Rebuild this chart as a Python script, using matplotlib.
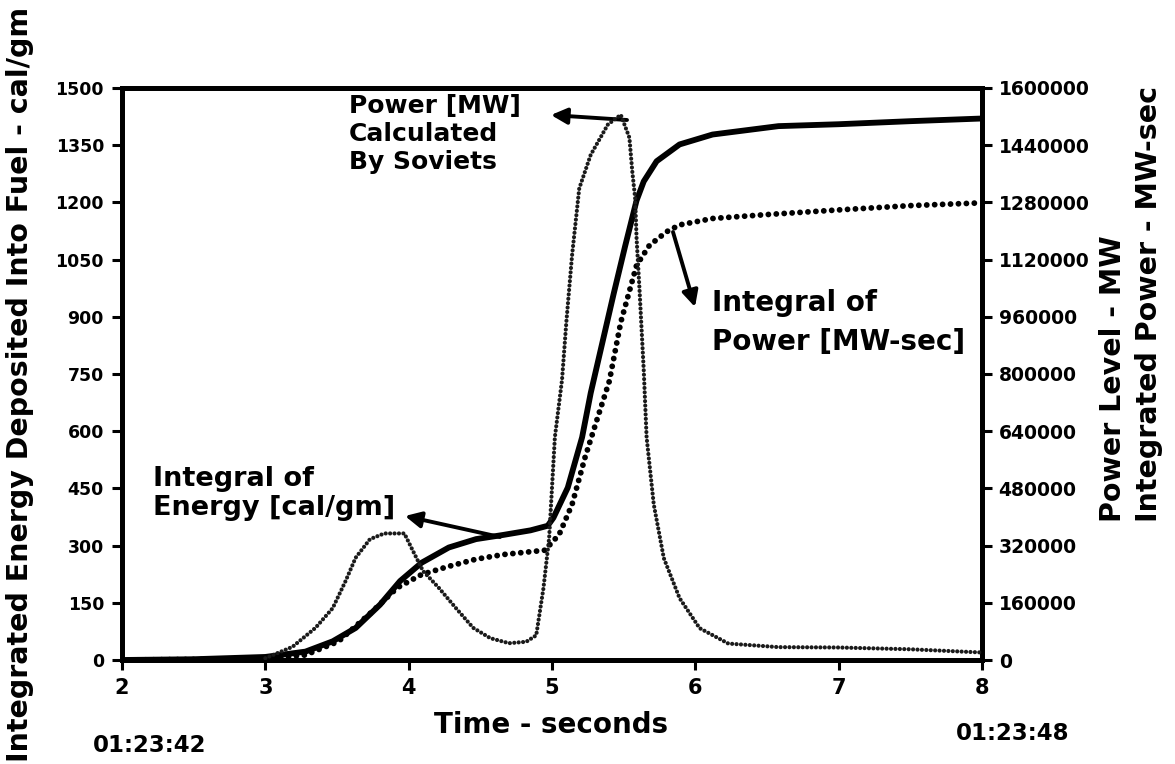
import matplotlib
matplotlib.use("Agg")
import matplotlib.pyplot as plt

plt.rcParams['font.family'] = ['DejaVu Sans']
plt.rcParams['font.weight'] = 'bold'

# ---------------- data ----------------
x_ticks = [2, 3, 4, 5, 6, 7, 8]
left_ticks = [0, 150, 300, 450, 600, 750, 900, 1050, 1200, 1350, 1500]
right_ticks = [0, 160000, 320000, 480000, 640000, 800000, 960000,
               1120000, 1280000, 1440000, 1600000]

# Integral of energy deposited into fuel (cal/gm), left axis
energy_t = [2.0, 2.5, 3.0, 3.28, 3.47, 3.63, 3.80, 3.94, 4.09, 4.28, 4.47,
            4.66, 4.85, 4.97, 5.01, 5.11, 5.21, 5.27, 5.35, 5.43, 5.51, 5.59,
            5.64, 5.73, 5.89, 6.12, 6.58, 7.00, 7.50, 8.00]
energy_cal = [0, 2, 8, 22, 49, 84, 145, 207, 255, 295, 317,
              328, 340, 352, 373, 452, 584, 700, 830, 960, 1085, 1205,
              1255, 1308, 1352, 1378, 1400, 1405, 1413, 1420]

# Integral of power (MW-sec), right axis
ipower_t = [2.0, 3.0, 3.28, 3.51, 3.75, 3.92, 4.09, 4.28, 4.47, 4.66, 4.95,
            5.05, 5.14, 5.23, 5.32, 5.40, 5.48, 5.59, 5.68, 5.80, 5.89, 6.12,
            6.50, 7.00, 7.50, 7.95]
ipower_mws = [0, 3000, 14000, 52000, 137000, 202000, 239000, 262000, 282000,
              295000, 307000, 351000, 435000, 566000, 680000, 780000, 945000,
              1104000, 1160000, 1198000, 1217000, 1235000, 1246000, 1259000,
              1271000, 1278000]

# Power (MW) calculated by Soviets, right axis
power_t = [3.00, 3.19, 3.35, 3.47, 3.56, 3.63, 3.73, 3.83, 3.97, 4.03, 4.10,
           4.21, 4.33, 4.45, 4.57, 4.70, 4.82, 4.89, 4.94, 4.98, 5.00, 5.02,
           5.07, 5.10, 5.14, 5.19, 5.27, 5.39, 5.48, 5.54, 5.56, 5.58, 5.59,
           5.61, 5.64, 5.66, 5.71, 5.78, 5.89, 6.03, 6.23, 6.58, 7.00, 7.50,
           8.00]
power_mw = [5000, 37000, 90000, 145000, 221000, 286000, 338000, 354000,
            354000, 305000, 249000, 202000, 145000, 90000, 61000, 47000,
            51000, 69000, 200000, 341000, 482000, 623000, 784000, 945000,
            1132000, 1319000, 1413000, 1498000, 1525000, 1461000, 1367000,
            1292000, 1180000, 1040000, 811000, 623000, 435000, 285000,
            173000, 89000, 46000, 36000, 35000, 30000, 21000]

# ---------------- figure ----------------
W, H = 1175, 764
fig = plt.figure(figsize=(W / 100, H / 100), dpi=100)
ax = fig.add_axes([122 / W, 1 - 660 / H, (982 - 122) / W, (660 - 88) / H])
ax2 = ax.twinx()

ax.set_xlim(2, 8)
ax.set_ylim(0, 1500)
ax2.set_ylim(0, 1600000)

ax.plot(energy_t, energy_cal, color='black', lw=4.2, solid_capstyle='round',
        solid_joinstyle='round', zorder=3)
ax2.plot(ipower_t, ipower_mws, color='black', lw=4.2,
         linestyle=(0, (0.01, 1.35)), dash_capstyle='round', zorder=3)
ax2.plot(power_t, power_mw, color='#1a1a1a', lw=3.0,
         linestyle=(0, (0.01, 1.05)), dash_capstyle='round', zorder=3)

for a in (ax, ax2):
    for s in a.spines.values():
        s.set_linewidth(3.5)

ax.set_xticks(x_ticks)
ax.set_xticklabels([str(v) for v in x_ticks], fontsize=15, fontweight='bold')
ax.set_yticks(left_ticks)
ax.set_yticklabels([str(v) for v in left_ticks], fontsize=12.5,
                   fontweight='bold')
ax2.set_yticks(right_ticks)
ax2.set_yticklabels([str(v) for v in right_ticks], fontsize=13.5,
                    fontweight='bold')
ax.tick_params(axis='both', direction='out', length=7, width=2.2, pad=6)
ax2.tick_params(axis='y', direction='out', length=7, width=2.2, pad=5)

# axis titles
fig.text(20 / W, 1 - 762 / H,
         'Integrated Energy Deposited Into Fuel - cal/gm',
         rotation=90, ha='center', va='bottom', fontsize=20.5,
         fontweight='bold')
fig.text(1131 / W, 1 - 522 / H,
         'Power Level - MW\nIntegrated Power - MW-sec',
         rotation=90, ha='center', va='bottom', multialignment='left',
         fontsize=20.5, fontweight='bold', linespacing=1.35)
fig.text(551 / W, 1 - 725 / H, 'Time - seconds', ha='center', va='center',
         fontsize=20, fontweight='bold')
fig.text(93 / W, 1 - 746 / H, '01:23:42', ha='left', va='center',
         fontsize=16.5, fontweight='bold')
fig.text(1013 / W, 1 - 734 / H, '01:23:48', ha='center', va='center',
         fontsize=16.5, fontweight='bold')

# annotations
fig.text(349 / W, 1 - 94 / H, 'Power [MW]\nCalculated\nBy Soviets',
         ha='left', va='top', fontsize=18, fontweight='bold',
         linespacing=1.2)
fig.text(153 / W, 1 - 466 / H, 'Integral of\nEnergy [cal/gm]',
         ha='left', va='top', fontsize=19.5, fontweight='bold',
         linespacing=1.15)
fig.text(712 / W, 1 - 289 / H, 'Integral of\nPower [MW-sec]',
         ha='left', va='top', fontsize=20, fontweight='bold',
         linespacing=1.5)

arrow = dict(arrowstyle='-|>', color='black', lw=2.8, mutation_scale=24,
             shrinkA=0, shrinkB=0)
ax.annotate('', xy=(551, H - 115), xytext=(627, H - 120),
            xycoords='figure pixels', textcoords='figure pixels',
            arrowprops=arrow)
ax.annotate('', xy=(405, H - 516), xytext=(500, H - 537),
            xycoords='figure pixels', textcoords='figure pixels',
            arrowprops=arrow)
ax.annotate('', xy=(695, H - 307), xytext=(673, H - 232),
            xycoords='figure pixels', textcoords='figure pixels',
            arrowprops=arrow)

fig.savefig('out.png', dpi=100)
